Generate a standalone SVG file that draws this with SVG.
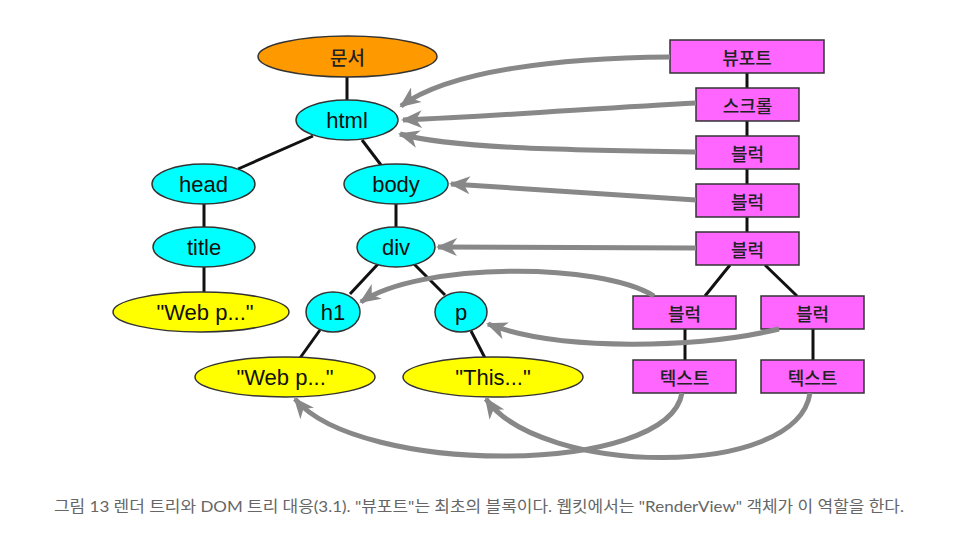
<svg xmlns="http://www.w3.org/2000/svg" width="957" height="535" viewBox="0 0 957 535">
<style>
.e{stroke:#333;stroke-width:1.5}
.dom{fill:#00FFFF}
.txt{fill:#FFFF00}
.doc{fill:#FF9900}
.box{fill:#FF66FF;stroke:#333;stroke-width:1.5}
.t{font-family:"Liberation Sans",Arial,sans-serif;font-size:22px;fill:#111;text-anchor:middle;dominant-baseline:central}
.k{font-family:"Noto Sans CJK KR","Noto Sans",sans-serif;font-size:18px;font-weight:500;fill:#222;text-anchor:middle;dominant-baseline:central}
.tree line{stroke:#111;stroke-width:3}
.arr path{fill:none;stroke:#888;stroke-width:5}
.cap{font-family:"Lato","Noto Sans CJK KR",sans-serif;font-size:16px;fill:#666;text-anchor:middle}
</style>
<defs>
<marker id="ah" markerUnits="userSpaceOnUse" markerWidth="22" markerHeight="20" viewBox="0 0 22 20" refX="19" refY="10" orient="auto">
<path d="M0,1 L21,10 L0,19 L6,10 z" fill="#888"/>
</marker>
</defs>

<g id="tree-lines" class="tree">
<line x1="347" y1="77" x2="347" y2="100"/>
<line x1="313" y1="136" x2="238" y2="169"/>
<line x1="362" y1="140" x2="381" y2="165"/>
<line x1="204" y1="204" x2="204" y2="227"/>
<line x1="396" y1="204" x2="396" y2="227"/>
<line x1="204" y1="267" x2="204" y2="292"/>
<line x1="378" y1="264" x2="350" y2="294"/>
<line x1="414" y1="264" x2="445" y2="295"/>
<line x1="320" y1="330" x2="300" y2="358"/>
<line x1="471" y1="331" x2="485" y2="358"/>
<line x1="747" y1="73" x2="747" y2="88"/>
<line x1="747" y1="121" x2="747" y2="136"/>
<line x1="747" y1="169" x2="747" y2="184"/>
<line x1="747" y1="217" x2="747" y2="232"/>
<line x1="730" y1="265" x2="705" y2="296"/>
<line x1="765" y1="265" x2="797" y2="296"/>
<line x1="685" y1="329" x2="685" y2="360"/>
<line x1="813" y1="329" x2="813" y2="360"/>
</g>

<g id="n-doc"><ellipse class="e doc" cx="347.5" cy="56.5" rx="89.5" ry="20.5"/><text class="k" x="347.5" y="56.5" style="font-size:19px">문서</text></g>
<g id="n-html"><ellipse class="e dom" cx="347" cy="120" rx="51" ry="20"/><text class="t" x="347" y="120">html</text></g>
<g id="n-head"><ellipse class="e dom" cx="203.5" cy="184" rx="51.5" ry="20"/><text class="t" x="203.5" y="184">head</text></g>
<g id="n-body"><ellipse class="e dom" cx="396" cy="184" rx="52" ry="20"/><text class="t" x="396" y="184">body</text></g>
<g id="n-title"><ellipse class="e dom" cx="204" cy="247" rx="51" ry="20"/><text class="t" x="204" y="247">title</text></g>
<g id="n-div"><ellipse class="e dom" cx="396" cy="247" rx="39" ry="20"/><text class="t" x="396" y="247">div</text></g>
<g id="n-webp1"><ellipse class="e txt" cx="201" cy="312" rx="88" ry="20"/><text class="t" x="205" y="312">"Web p..."</text></g>
<g id="n-h1"><ellipse class="e dom" cx="333" cy="312" rx="27" ry="20"/><text class="t" x="333" y="312">h1</text></g>
<g id="n-p"><ellipse class="e dom" cx="461" cy="312" rx="26" ry="20"/><text class="t" x="461" y="312">p</text></g>
<g id="n-webp2"><ellipse class="e txt" cx="285" cy="377" rx="90" ry="20"/><text class="t" x="285" y="377">"Web p..."</text></g>
<g id="n-this"><ellipse class="e txt" cx="493" cy="377" rx="90" ry="20"/><text class="t" x="493" y="377">"This..."</text></g>

<g id="r-viewport"><rect class="box" x="670" y="40" width="154" height="33"/><text class="k" x="747" y="56.5">뷰포트</text></g>
<g id="r-scroll"><rect class="box" x="696" y="88" width="103" height="33"/><text class="k" x="747.5" y="104.5">스크롤</text></g>
<g id="r-block1"><rect class="box" x="696" y="136" width="103" height="33"/><text class="k" x="747.5" y="152.5">블럭</text></g>
<g id="r-block2"><rect class="box" x="696" y="184" width="103" height="33"/><text class="k" x="747.5" y="200.5">블럭</text></g>
<g id="r-block3"><rect class="box" x="696" y="232" width="103" height="33"/><text class="k" x="747.5" y="248.5">블럭</text></g>
<g id="r-block4"><rect class="box" x="633" y="296" width="103" height="33"/><text class="k" x="684.5" y="312.5">블럭</text></g>
<g id="r-block5"><rect class="box" x="761" y="296" width="103" height="33"/><text class="k" x="812.5" y="312.5">블럭</text></g>
<g id="r-text1"><rect class="box" x="633" y="360" width="103" height="33"/><text class="k" x="684.5" y="376.5">텍스트</text></g>
<g id="r-text2"><rect class="box" x="761" y="360" width="103" height="33"/><text class="k" x="812.5" y="376.5">텍스트</text></g>

<g id="connectors" class="arr">
<path d="M670,57 C560,58 450,70 401,106" marker-end="url(#ah)"/>
<path d="M696,103 C600,108 500,116 403,120" marker-end="url(#ah)"/>
<path d="M696,152 C560,150 450,148 400,134" marker-end="url(#ah)"/>
<path d="M696,200 L451,184" marker-end="url(#ah)"/>
<path d="M696,248 L438,247" marker-end="url(#ah)"/>
<path d="M654,296 C600,262 420,262 361,302" marker-end="url(#ah)"/>
<path d="M779,329 C700,348 560,352 488,324" marker-end="url(#ah)"/>
<path d="M682,393 C668,476 360,476 295,399" marker-end="url(#ah)"/>
<path d="M810,393 C797,480 540,476 486,399" marker-end="url(#ah)"/>
</g>

<text class="cap" x="479" y="512" textLength="850" lengthAdjust="spacingAndGlyphs">그림 13 렌더 트리와 DOM 트리 대응(3.1). "뷰포트"는 최초의 블록이다. 웹킷에서는 "RenderView" 객체가 이 역할을 한다.</text>
</svg>
